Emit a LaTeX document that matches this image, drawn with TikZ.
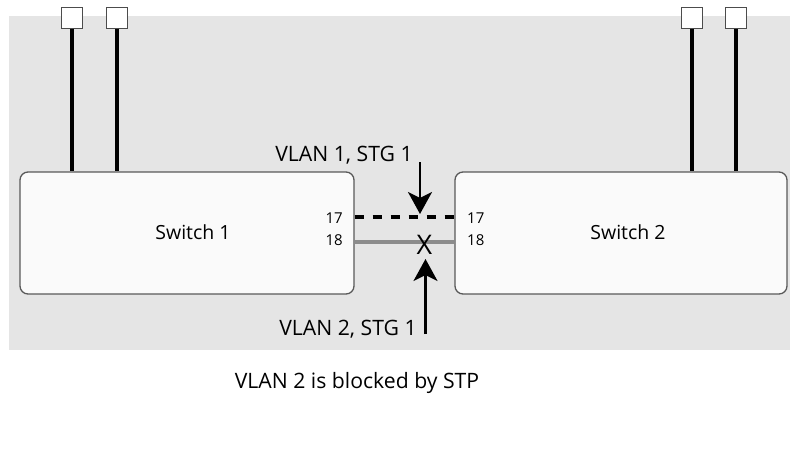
\documentclass[tikz,border=0pt]{standalone}
\usepackage{fontspec}
\setmainfont{Open Sans}
\usetikzlibrary{arrows.meta,calc}
\begin{document}
\begin{tikzpicture}[x=1pt,y=-1pt,
  switchbox/.style={draw=black!65,line width=1.3pt,fill=white!98!black,rounded corners=8pt,inner sep=0pt},
  term/.style={draw=black!70,line width=1pt,fill=white,minimum size=21pt,inner sep=0pt},
  stub/.style={line width=4.5pt,black},
  portlbl/.style={font=\fontsize{15}{15}\selectfont,inner sep=0pt},
  swlbl/.style={font=\fontsize{19.5}{19.5}\selectfont,inner sep=0pt},
  lbl/.style={font=\fontsize{21.2}{21.2}\selectfont,inner sep=0pt},
  callout/.style={line width=2.6pt,-{Stealth[length=22pt,width=24pt,inset=6pt]}}]
\useasboundingbox (0,0) rectangle (790,453);
\fill[white] (0,0) rectangle (790,453);
\fill[black!10] (9,16) rectangle (790,350);
% switches
\node[switchbox,minimum width=334pt,minimum height=122pt] (s1) at (187,233) {};
\node[switchbox,minimum width=332pt,minimum height=122pt] (s2) at (621,233) {};
\node[swlbl] (s1t) at (193,232) {Switch 1};
\node[swlbl] (s2t) at (628,232) {Switch 2};
% terminals
\node[term] (t1) at (72,17.5) {};
\node[term] (t2) at (117,17.5) {};
\node[term] (t3) at (692,17.5) {};
\node[term] (t4) at (736,17.5) {};
\draw[stub] (t1.south) -- (t1.south |- s1.north);
\draw[stub] (t2.south) -- (t2.south |- s1.north);
\draw[stub] (t3.south) -- (t3.south |- s2.north);
\draw[stub] (t4.south) -- (t4.south |- s2.north);
% port labels
\node[portlbl,anchor=east] (p17a) at (343,218) {17};
\node[portlbl,anchor=east] (p18a) at (343,240) {18};
\node[portlbl,anchor=west] (p17b) at (467,218) {17};
\node[portlbl,anchor=west] (p18b) at (467,240) {18};
% links
\draw[line width=4pt,black,dash pattern=on 9.5pt off 8.5pt] (s1.east |- 0,217) -- (s2.west |- 0,217);
\draw[line width=4pt,black!45] (s1.east |- 0,242) -- (s2.west |- 0,242);
\node[font=\fontsize{27}{27}\selectfont,inner sep=0pt] (x) at (424.5,245) {X};
% callouts
\node[lbl] (v1) at (344,155) {VLAN 1, STG 1};
\node[lbl] (v2) at (348,329) {VLAN 2, STG 1};
\coordinate (a1s) at (420,162);
\coordinate (a1e) at (420,214);
\coordinate (a2s) at (425.5,334);
\coordinate (a2e) at (425.5,259);
\draw[callout] (a1s) -- (a1e);
\draw[callout] (a2s) -- (a2e);
\node[lbl] (cap) at (357,383) {VLAN 2 is blocked by STP};
\end{tikzpicture}
\end{document}
